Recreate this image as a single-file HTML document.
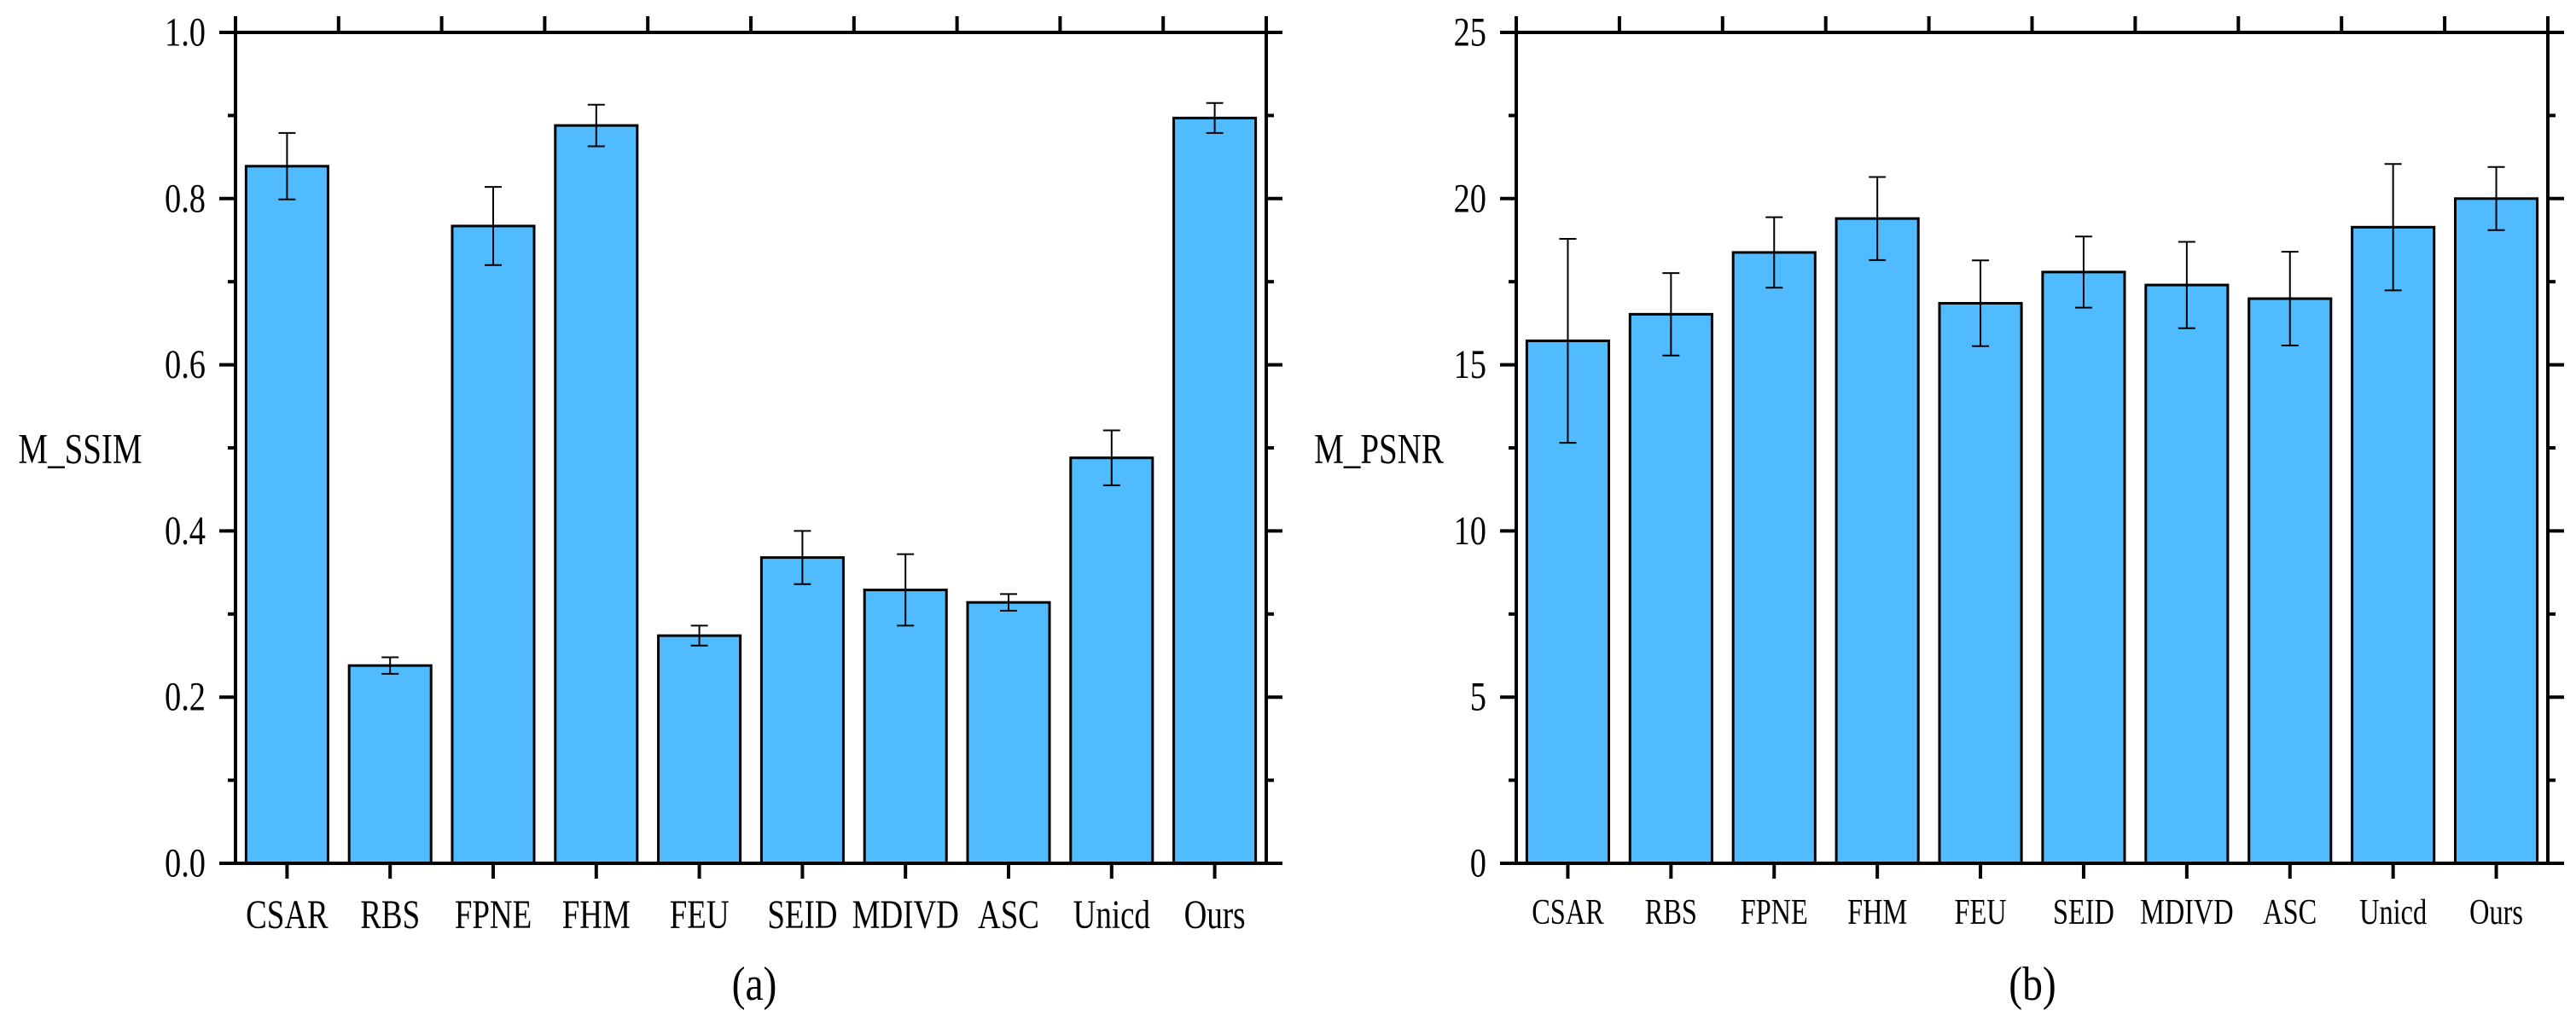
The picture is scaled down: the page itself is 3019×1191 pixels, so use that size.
<!DOCTYPE html>
<html><head><meta charset="utf-8"><style>
html,body{margin:0;padding:0;background:#fff;}
svg{display:block;font-family:"Liberation Serif","Noto Serif CJK SC",serif;}
</style></head><body>
<svg id="chart" width="3019" height="1191" viewBox="0 0 3019 1191" xmlns="http://www.w3.org/2000/svg"></svg>
<script>
const categories = ["CSAR","RBS","FPNE","FHM","FEU","SEID","MDIVD","ASC","Unicd","Ours"];
const ssimValues = [0.839,0.238,0.767,0.888,0.274,0.368,0.329,0.314,0.488,0.897];
const ssimErrors = [0.040,0.010,0.047,0.025,0.012,0.032,0.043,0.010,0.033,0.018];
const psnrValues = [15.72,16.52,18.38,19.40,16.85,17.79,17.40,16.99,19.14,20.00];
const psnrErrors = [3.07,1.24,1.06,1.25,1.29,1.07,1.30,1.41,1.90,0.95];
const ssimTicks = ["0.0","0.2","0.4","0.6","0.8","1.0"];
const psnrTicks = ["0","5","10","15","20","25"];

const svg = document.getElementById('chart');
const NS = "http://www.w3.org/2000/svg";
function mk(tag, attrs, parent){
  const e = document.createElementNS(NS, tag);
  for (const k in attrs) e.setAttribute(k, attrs[k]);
  (parent||svg).appendChild(e);
  return e;
}
function txt(s, x, y, size, anchor, sx, parent){
  const t = mk('text', {x:0, y:0, 'font-size':size, 'text-anchor':anchor, 'dominant-baseline':'central', fill:'#000',
    transform:`translate(${x},${y}) scale(${sx},1)`}, parent);
  t.textContent = s;
  return t;
}

function drawChart(cfg){
  const g = mk('g', {});
  
  
  const {L, R, T, B} = cfg;
  const n = categories.length;
  const band = (R - L) / n;
  const xC = i => L + band * (i + 0.5);
  const yS = v => B - (v / cfg.max) * (B - T);
  const bw = band * 0.795;

  // bars
  cfg.values.forEach((v, i) => {
    const r = mk('rect', {x:xC(i)-bw/2, y:yS(v), width:bw, height:B-yS(v), fill:'#50bbfe', stroke:'#000', 'stroke-width':3}, g);
    
    
  });
  // error bars
  cfg.values.forEach((v, i) => {
    const e = cfg.errors[i];
    const eg = mk('g', {stroke:'#000', 'stroke-width':2}, g);
    
    
    const x = xC(i);
    mk('line', {x1:x, x2:x, y1:yS(v+e), y2:yS(v-e)}, eg);
    mk('line', {x1:x-10, x2:x+10, y1:yS(v+e), y2:yS(v+e)}, eg);
    mk('line', {x1:x-10, x2:x+10, y1:yS(v-e), y2:yS(v-e)}, eg);
  });
  // frame
  const ax = mk('g', {stroke:'#000', 'stroke-width':4, fill:'none'}, g);
  
  
  mk('line', {x1:L-19, x2:R+19, y1:B, y2:B}, ax);
  mk('line', {x1:L-19, x2:R+19, y1:T, y2:T}, ax);
  mk('line', {x1:L, x2:L, y1:T-19, y2:B}, ax);
  mk('line', {x1:R, x2:R, y1:T-19, y2:B}, ax);
  // x ticks
  for (let i = 0; i < n; i++) {
    mk('line', {x1:xC(i), x2:xC(i), y1:B, y2:B+18}, ax);
    if (i > 0) mk('line', {x1:L+band*i, x2:L+band*i, y1:T, y2:T-19}, ax);
  }
  // y ticks
  const nt = cfg.ticks.length;
  for (let k = 0; k < nt; k++) {
    const v = cfg.max * k / (nt-1);
    const y = yS(v);
    mk('line', {x1:L-19, x2:L, y1:y, y2:y}, ax);
    mk('line', {x1:R, x2:R+19, y1:y, y2:y}, ax);
    const lt = txt(cfg.ticks[k], L-35, y, cfg.tickSize, 'end', 0.8, g);
    
    
    if (k < nt-1) {
      const ym = yS(v + cfg.max/(nt-1)/2);
      mk('line', {x1:L-9, x2:L, y1:ym, y2:ym}, ax);
      mk('line', {x1:R, x2:R+9, y1:ym, y2:ym}, ax);
    }
  }
  // x labels
  categories.forEach((c, i) => {
    const t = txt(c, xC(i), cfg.labY, cfg.labSize, 'middle', 0.77, g);
    
    
  });
  const yt = txt(cfg.yTitle, cfg.yTitleX, 526, 50, 'middle', 0.78, g);
  
  
  const cap = txt(cfg.caption, cfg.capX, 1154, 56, 'middle', 0.85, g);
  
  
}

drawChart({name:'ssim-chart', L:276, R:1484, T:38, B:1012, max:1.0, values:ssimValues, errors:ssimErrors,
  ticks:ssimTicks, tickSize:48, labSize:48, labY:1073, yTitle:'M_SSIM', yTitleX:94, caption:'(a)', capX:884});
drawChart({name:'psnr-chart', L:1777, R:2986, T:38, B:1012, max:25, values:psnrValues, errors:psnrErrors,
  ticks:psnrTicks, tickSize:48, labSize:42, labY:1070, yTitle:'M_PSNR', yTitleX:1616, caption:'(b)', capX:2382});
</script>
</body></html>
